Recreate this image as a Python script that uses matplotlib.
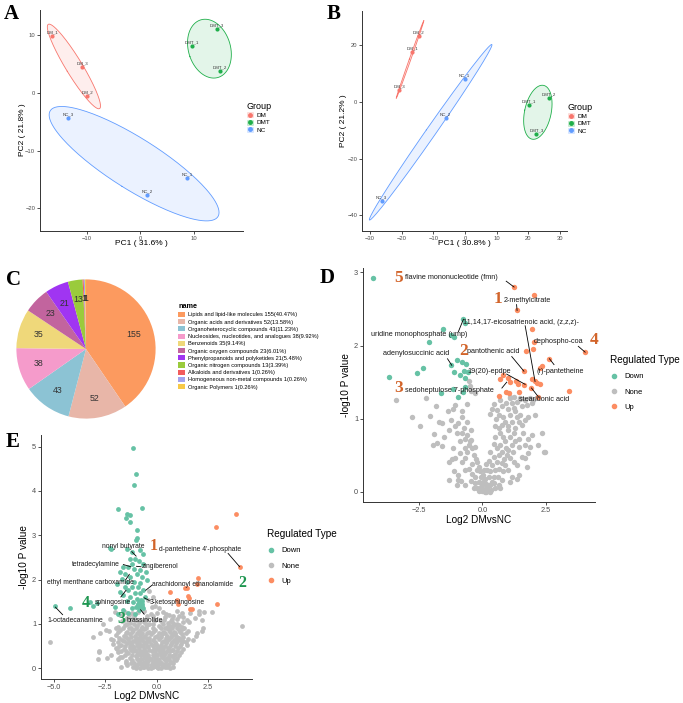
import numpy as np
import matplotlib.pyplot as plt
from matplotlib.patches import Patch
from matplotlib.lines import Line2D

plt.rcParams['font.family'] = ['Liberation Sans', 'DejaVu Sans']

W, H = 683, 703
fig = plt.figure(figsize=(W / 100, H / 100), dpi=100)


def px_axes(x0, y0, x1, y1):
    return fig.add_axes([x0 / W, 1 - y1 / H, (x1 - x0) / W, (y1 - y0) / H])


def classic(ax, size):
    for s in ['top', 'right']:
        ax.spines[s].set_visible(False)
    for s in ['left', 'bottom']:
        ax.spines[s].set_linewidth(0.7)
        ax.spines[s].set_color('#333333')
    ax.tick_params(labelsize=size, colors='#333333', labelcolor='#4D4D4D',
                   length=2, width=0.6, pad=1.5)


# ---------------- PCA data ----------------
groups = ['DM', 'DMT', 'NC']
group_colors = ['#F8766D', '#1FAF4A', '#619CFF']

a_labels = [['DM_1', 'DM_3', 'DM_2'], ['DMT_1', 'DMT_3', 'DMT_2'], ['NC_3', 'NC_1', 'NC_2']]
a_pc1 = [[-16.4, -10.8, -9.9], [9.6, 14.3, 14.9], [-13.4, 8.7, 1.3]]
a_pc2 = [[9.9, 4.45, -0.5], [8.1, 11.1, 3.9], [-4.3, -14.7, -17.7]]

b_labels = [['DM_2', 'DM_1', 'DM_3'], ['DMT_1', 'DMT_2', 'DMT_3'], ['NC_1', 'NC_2', 'NC_3']]
b_pc1 = [[-14.6, -16.7, -20.7], [20.1, 26.4, 22.5], [-0.1, -6.1, -26.3]]
b_pc2 = [[23.0, 17.5, 4.1], [-1.1, 1.3, -11.4], [8.1, -5.6, -34.8]]

# ---------------- pie data ----------------
class_names = ['Lipids and lipid-like molecules', 'Organic acids and derivatives',
               'Organoheterocyclic compounds', 'Nucleosides, nucleotides, and analogues',
               'Benzenoids', 'Organic oxygen compounds', 'Phenylpropanoids and polyketides',
               'Organic nitrogen compounds', 'Alkaloids and derivatives',
               'Homogeneous non-metal compounds', 'Organic Polymers']
class_counts = [155, 52, 43, 38, 35, 23, 21, 13, 1, 1, 1]
class_colors = ['#FC9A5F', '#E8B6A8', '#8CC3D4', '#F59BCB', '#EFD87A', '#C2649E',
                '#A035F2', '#9ACB3C', '#F25C5C', '#A3A3F0', '#F7C948']

# ---------------- volcano D (Log2 DMvsNC, -log10 P) ----------------
d_down = np.array([(-4.31, 2.92), (-0.75, 2.36), (-0.69, 2.31), (-1.57, 2.23), (-1.24, 2.15),
                   (-1.11, 2.12), (-2.10, 2.05), (-1.02, 1.80), (-0.80, 1.77), (-0.63, 1.75),
                   (-1.26, 1.73), (-2.33, 1.69), (-2.59, 1.62), (-3.71, 1.57), (-1.12, 1.64),
                   (-0.74, 1.65), (-0.58, 1.64), (-0.87, 1.60), (-0.67, 1.56), (-1.18, 1.41),
                   (-0.69, 1.44), (-1.65, 1.35), (-0.98, 1.30), (-0.75, 1.37)])
d_up = np.array([(1.25, 2.80), (2.02, 2.69), (1.37, 2.48), (1.97, 2.23), (2.03, 2.05), (1.98, 1.96),
                 (4.06, 1.91), (1.74, 1.92), (2.62, 1.81), (2.35, 1.72), (2.29, 1.69), (1.64, 1.65),
                 (0.81, 1.60), (0.70, 1.54), (1.03, 1.56), (1.10, 1.50), (1.32, 1.51), (1.40, 1.48),
                 (1.63, 1.46), (1.97, 1.54), (2.14, 1.49), (2.27, 1.48), (1.94, 1.42), (0.94, 1.37),
                 (1.07, 1.35), (0.67, 1.31), (2.18, 1.30), (3.43, 1.38), (1.46, 1.36), (2.08, 1.51)])
d_none = np.array([
    (-3.42, 1.26), (-2.24, 1.29), (-2.79, 1.02), (-2.45, 0.90), (-1.84, 1.17), (-2.07, 1.04),
    (-1.60, 0.94), (-1.93, 0.79), (-1.80, 0.67), (-1.60, 0.63), (-1.34, 0.85), (-1.24, 0.98),
    (-1.18, 1.14), (-1.37, 1.10), (-1.08, 1.19), (-0.81, 1.03), (-0.95, 0.94), (-0.71, 0.87),
    (-0.81, 0.81), (-0.62, 0.78), (-0.68, 0.73), (-0.45, 0.71), (-0.55, 0.64), (-0.42, 0.60),
    (-0.29, 0.62), (-0.35, 0.50), (-0.88, 0.53), (-1.18, 0.60), (-1.08, 0.46), (-1.34, 0.41),
    (-0.81, 0.41), (-0.68, 0.46), (-0.22, 0.41), (-0.15, 0.34), (-0.55, 0.32), (-0.42, 0.25),
    (-0.09, 0.28), (0.04, 0.23), (0.11, 0.18), (-0.15, 0.14), (-0.02, 0.09), (0.17, 0.07),
    (0.31, 0.09), (0.37, 0.14), (0.44, 0.21), (0.31, 0.28), (0.50, 0.30), (0.37, 0.37),
    (0.57, 0.41), (0.44, 0.48), (0.64, 0.50), (0.77, 0.55), (0.57, 0.60), (0.70, 0.64),
    (0.90, 0.69), (0.83, 0.75), (0.70, 0.80), (0.64, 0.87), (0.77, 0.91), (0.90, 0.96),
    (0.83, 1.03), (0.64, 1.05), (0.57, 1.12), (0.37, 1.14), (0.31, 1.07), (0.77, 1.17),
    (1.03, 1.14), (1.16, 1.21), (1.36, 1.23), (1.56, 1.17), (1.76, 1.19), (1.69, 1.26),
    (1.49, 1.28), (1.89, 1.28), (1.95, 1.21), (2.09, 1.05), (1.82, 1.03), (1.69, 0.98),
    (1.56, 0.91), (1.43, 0.96), (1.36, 1.03), (1.30, 1.10), (1.10, 1.05), (1.16, 0.96),
    (1.30, 0.87), (1.03, 0.85), (1.23, 0.80), (1.43, 0.73), (1.30, 0.69), (1.16, 0.64),
    (1.03, 0.57), (0.97, 0.50), (1.10, 0.46), (1.23, 0.41), (0.90, 0.37), (0.77, 0.39),
    (0.64, 0.32), (0.83, 0.28), (1.03, 0.30), (1.36, 0.37), (1.56, 0.48), (1.69, 0.46),
    (1.82, 0.53), (1.89, 0.62), (1.69, 0.64), (1.43, 0.62), (1.82, 0.73), (1.95, 0.78),
    (2.35, 0.80), (2.48, 0.55), (1.76, 0.34), (1.43, 0.23), (1.16, 0.21), (1.36, 0.18),
    (1.10, 0.14), (0.64, 0.09), (0.50, 0.05), (0.11, 0.02), (-0.09, 0.05), (-0.68, 0.09),
    (-1.01, 0.09), (-1.14, 0.28), (-0.95, 0.23), (-1.34, 0.16), (-0.95, 0.16), (0.77, 0.16),
    (0.00, 0.02), (0.10, 0.00), (-0.10, 0.03), (0.20, 0.04), (-0.05, 0.12), (0.05, 0.15),
    (0.15, 0.11), (-0.20, 0.06), (0.25, 0.20), (0.30, 0.00), (-0.50, 1.45), (-0.55, 1.52),
    (-0.45, 1.38), (-0.30, 1.35), (-1.94, 0.64), (2.44, 0.55), (2.20, 0.64),
    (-0.30, 0.20), (-0.20, 0.30), (-0.25, 0.45), (-0.40, 0.38), (-0.60, 0.55), (-0.50, 0.70),
    (-0.70, 0.60), (-0.90, 0.70), (-1.00, 0.80), (-0.60, 0.95), (-0.45, 0.85), (-1.10, 0.90),
    (-0.30, 0.12), (0.20, 0.30), (0.25, 0.42), (0.30, 0.55), (0.45, 0.65), (0.50, 0.75),
    (0.50, 0.90), (0.55, 1.00), (0.45, 1.20), (0.70, 1.25), (0.95, 1.22), (1.10, 1.30),
    (1.25, 1.15), (1.00, 0.90), (1.10, 0.75), (0.95, 0.60), (0.85, 0.45), (0.60, 0.20),
    (0.45, 0.12), (0.05, 0.30), (0.15, 0.38), (-0.05, 0.20), (0.00, 0.05), (-0.15, 0.02),
    (0.25, 0.10), (0.15, 0.00), (-0.35, 0.05), (0.35, 0.03), (-0.80, 1.10), (-0.60, 1.20),
    (1.50, 1.05), (1.60, 0.80), (1.20, 0.55), (0.70, 0.05), (-0.45, 0.15), (-0.70, 0.30),
    (-0.85, 0.15), (-1.20, 0.45), (-1.50, 0.75), (-1.70, 0.95), (1.10, 1.28), (1.50, 1.27),
    (1.25, 1.30), (2.00, 1.25)])

# ---------------- volcano E ----------------
e_down = np.array([
    (-1.15, 4.97), (-1.02, 4.39), (-1.10, 4.14), (-1.89, 3.60), (-0.73, 3.62), (-1.42, 3.49),
    (-1.32, 3.45), (-1.49, 3.40), (-1.29, 3.30), (-0.94, 3.11), (-0.97, 2.94), (-1.02, 2.89),
    (-2.29, 2.72), (-1.42, 2.68), (-1.20, 2.63), (-0.81, 2.66), (-0.65, 2.57), (-1.32, 2.47),
    (-1.05, 2.47), (-0.87, 2.42), (-1.21, 2.36), (-0.65, 2.36), (-1.62, 2.29), (-1.37, 2.29),
    (-1.10, 2.23), (-0.81, 2.21), (-0.52, 2.17), (-1.78, 2.17), (-1.54, 2.12), (-0.97, 2.12),
    (-1.29, 2.06), (-0.73, 2.06), (-1.70, 2.02), (-0.49, 1.99), (-1.42, 1.95), (-1.10, 1.95),
    (-0.81, 1.93), (-1.94, 1.90), (-1.54, 1.84), (-1.21, 1.84), (-0.92, 1.84), (-0.65, 1.77),
    (-1.37, 1.76), (-1.78, 1.72), (-1.05, 1.70), (-0.81, 1.69), (-1.62, 1.65), (-1.29, 1.61),
    (-0.57, 1.61), (-0.97, 1.57), (-1.45, 1.52), (-1.13, 1.50), (-0.81, 1.47), (-0.89, 1.42),
    (-0.73, 1.44), (-1.00, 1.38), (-0.65, 1.37), (-0.84, 1.31), (-1.21, 1.35), (-1.62, 1.31),
    (-1.37, 1.25), (-1.05, 1.23), (-1.86, 1.23), (-2.02, 1.38), (-2.91, 1.47), (-3.07, 1.40),
    (-3.23, 1.50), (-4.20, 1.36), (-4.92, 1.41), (-2.23, 2.69), (-0.85, 1.50), (-0.75, 1.45),
    (-0.80, 1.40), (-0.90, 1.45), (-0.70, 1.52), (-0.78, 1.55), (-0.88, 1.38), (-0.72, 1.40)])
e_up = np.array([(3.87, 3.48), (2.87, 3.19), (4.03, 2.29), (2.02, 2.04), (1.94, 1.91), (1.46, 1.80),
                 (1.38, 1.80), (0.65, 1.72), (1.53, 1.63), (1.58, 1.59), (1.00, 1.54), (1.03, 1.45),
                 (2.95, 1.45), (1.70, 1.33), (1.62, 1.33)])
e_none = np.array([
    (-5.17, 0.59), (4.16, 0.95), (2.71, 1.26), (2.07, 1.22), (1.86, 1.14), (2.18, 1.08),
    (2.26, 0.90), (1.94, 0.80), (1.74, 0.63), (1.45, 0.52), (1.26, 0.44), (1.13, 0.63),
    (0.89, 0.78), (1.21, 0.93), (0.97, 1.01), (0.73, 1.12), (1.29, 1.16), (-2.83, 0.22),
    (-2.39, 0.24), (-2.78, 0.39), (-3.07, 0.71), (-2.74, 0.80), (-2.45, 0.87), (-2.62, 1.01),
    (-2.26, 1.12), (-2.02, 1.27), (-1.78, 1.20), (-2.13, 0.63), (-1.94, 0.44), (-1.78, 0.26),
    (-1.49, 0.11), (-1.74, 0.03), (-1.13, 0.03), (-0.81, 0.00), (0.00, 0.03), (0.48, 0.03),
    (0.81, 0.11),
    (-1.55, 1.28), (-1.20, 1.24), (-0.60, 1.30), (-0.30, 1.22), (0.30, 1.27), (0.60, 1.21),
    (1.00, 1.30), (1.60, 1.25),
    (-1.45, 1.14), (-1.10, 1.18), (-0.50, 1.12), (-0.20, 1.17), (0.40, 1.15), (1.10, 1.19),
    (1.45, 1.10),
    (-1.70, 1.06), (-1.30, 1.02), (-1.00, 1.08), (-0.60, 1.05), (-0.35, 0.99), (0.20, 1.07),
    (0.55, 1.03), (0.85, 0.98), (1.55, 1.04),
    (-1.90, 0.94), (-1.55, 0.97), (-1.25, 0.92), (-0.95, 0.96), (-0.70, 0.93), (-0.45, 0.97),
    (0.10, 0.95), (0.40, 0.91), (0.65, 0.96), (1.35, 0.90),
    (-2.30, 0.84), (-1.80, 0.86), (-1.45, 0.83), (-1.15, 0.87), (-0.85, 0.84), (-0.60, 0.88),
    (-0.35, 0.82), (-0.10, 0.86), (0.30, 0.83), (0.60, 0.87), (0.85, 0.82), (1.10, 0.86),
    (1.40, 0.80), (2.20, 0.85),
    (-2.00, 0.76), (-1.60, 0.73), (-1.30, 0.77), (-1.05, 0.72), (-0.80, 0.76), (-0.55, 0.73),
    (-0.30, 0.77), (0.00, 0.74), (0.25, 0.78), (0.50, 0.72), (0.75, 0.75), (1.00, 0.71),
    (1.25, 0.77), (1.90, 0.72),
    (-2.20, 0.66), (-1.70, 0.63), (-1.40, 0.67), (-1.15, 0.62), (-0.90, 0.66), (-0.70, 0.63),
    (-0.45, 0.67), (-0.20, 0.64), (0.10, 0.66), (0.35, 0.62), (0.60, 0.67), (0.85, 0.64),
    (1.10, 0.68), (1.50, 0.66),
    (-2.10, 0.56), (-1.75, 0.53), (-1.45, 0.57), (-1.20, 0.52), (-0.95, 0.56), (-0.75, 0.53),
    (-0.50, 0.57), (-0.30, 0.54), (-0.05, 0.56), (0.20, 0.52), (0.45, 0.57), (0.70, 0.54),
    (0.95, 0.58), (1.20, 0.55), (1.40, 0.60),
    (-2.00, 0.46), (-1.60, 0.43), (-1.30, 0.47), (-1.05, 0.42), (-0.85, 0.46), (-0.60, 0.44),
    (-0.40, 0.48), (-0.15, 0.43), (0.05, 0.47), (0.30, 0.44), (0.55, 0.46), (0.80, 0.42),
    (1.05, 0.47),
    (-2.80, 0.36), (-1.90, 0.37), (-1.40, 0.34), (-1.15, 0.38), (-0.90, 0.33), (-0.70, 0.37),
    (-0.50, 0.34), (-0.25, 0.38), (-0.05, 0.33), (0.15, 0.37), (0.40, 0.35), (0.65, 0.38),
    (0.90, 0.33), (1.20, 0.36),
    (-1.70, 0.26), (-1.30, 0.23), (-1.00, 0.27), (-0.80, 0.22), (-0.55, 0.26), (-0.35, 0.23),
    (-0.15, 0.27), (0.05, 0.22), (0.25, 0.26), (0.50, 0.23), (0.75, 0.27), (1.00, 0.24),
    (-1.50, 0.17), (-1.10, 0.13), (-0.85, 0.16), (-0.60, 0.12), (-0.40, 0.17), (-0.20, 0.14),
    (0.00, 0.16), (0.20, 0.12), (0.45, 0.17), (0.70, 0.14), (0.95, 0.18),
    (-1.45, 0.08), (-1.00, 0.06), (-0.75, 0.09), (-0.50, 0.05), (-0.30, 0.08), (-0.10, 0.06),
    (0.10, 0.09), (0.30, 0.05), (0.55, 0.07), (0.80, 0.04),
    (-0.65, 0.02), (-0.40, 0.00), (0.20, 0.01), (-0.20, 0.02),
    (-0.35, 1.75), (-0.20, 1.60), (-0.40, 1.55), (-0.10, 1.40), (0.10, 1.35), (-0.25, 1.38),
    (2.30, 1.27), (2.05, 1.30),
    (-1.35, 1.20), (-0.90, 1.26), (-0.45, 1.19), (0.00, 1.25), (0.45, 1.23), (0.80, 1.17),
    (1.25, 1.24),
    (-1.60, 1.10), (-1.20, 1.12), (-0.80, 1.10), (-0.10, 1.10), (0.35, 1.08), (0.70, 1.06),
    (1.00, 1.12), (1.30, 1.05),
    (-1.45, 1.00), (-1.10, 0.99), (-0.85, 1.02), (-0.50, 1.01), (-0.20, 1.00), (0.30, 0.99),
    (0.55, 0.95), (0.80, 1.02), (1.10, 0.98),
    (-2.00, 0.90), (-1.65, 0.91), (-1.35, 0.90), (-1.00, 0.91), (-0.75, 0.89), (-0.50, 0.92),
    (-0.20, 0.90), (0.20, 0.90), (0.50, 0.90), (0.75, 0.90), (1.00, 0.92), (1.25, 0.88),
    (-1.90, 0.81), (-1.50, 0.79), (-1.20, 0.81), (-0.95, 0.79), (-0.70, 0.80), (-0.45, 0.79),
    (-0.20, 0.81), (0.10, 0.80), (0.40, 0.79), (0.65, 0.81), (0.90, 0.79), (1.15, 0.81),
    (1.50, 0.84),
    (-1.85, 0.69), (-1.50, 0.70), (-1.25, 0.71), (-1.00, 0.69), (-0.80, 0.70), (-0.60, 0.71),
    (-0.35, 0.69), (-0.10, 0.70), (0.20, 0.71), (0.45, 0.69), (0.70, 0.70), (0.95, 0.71),
    (1.30, 0.70),
    (-1.90, 0.60), (-1.60, 0.61), (-1.30, 0.59), (-1.05, 0.61), (-0.85, 0.60), (-0.60, 0.60),
    (-0.35, 0.61), (-0.10, 0.60), (0.25, 0.60), (0.50, 0.61), (0.75, 0.60), (1.00, 0.62),
    (1.30, 0.61),
    (-1.85, 0.50), (-1.55, 0.50), (-1.30, 0.51), (-1.10, 0.49), (-0.90, 0.51), (-0.65, 0.50),
    (-0.45, 0.51), (-0.20, 0.50), (0.00, 0.51), (0.20, 0.49), (0.40, 0.51), (0.65, 0.50),
    (0.90, 0.51), (1.15, 0.50),
    (-1.75, 0.40), (-1.50, 0.39), (-1.25, 0.41), (-1.00, 0.40), (-0.80, 0.39), (-0.55, 0.40),
    (-0.35, 0.41), (-0.10, 0.39), (0.10, 0.41), (0.25, 0.40), (0.50, 0.39), (0.75, 0.41),
    (1.00, 0.40),
    (-2.20, 0.31), (-1.55, 0.30), (-1.20, 0.30), (-0.95, 0.31), (-0.75, 0.29), (-0.60, 0.31),
    (-0.40, 0.30), (-0.20, 0.31), (0.00, 0.29), (0.20, 0.31), (0.35, 0.30), (0.60, 0.31),
    (0.85, 0.29), (1.10, 0.30),
    (-1.90, 0.21), (-1.20, 0.19), (-0.95, 0.20), (-0.70, 0.21), (-0.50, 0.19), (-0.30, 0.20),
    (-0.10, 0.21), (0.10, 0.19), (0.35, 0.20), (0.60, 0.21), (0.85, 0.20),
    (-1.25, 0.11), (-0.90, 0.10), (-0.65, 0.11), (-0.45, 0.10), (-0.20, 0.11), (0.00, 0.10),
    (0.20, 0.11), (0.40, 0.10), (0.65, 0.11),
    (-1.00, 0.00), (-0.60, 0.04), (-0.30, 0.01), (0.05, 0.00), (0.40, 0.02), (0.65, 0.01)])

# labels: text, text left x, text y, line start, line end (point)
d_notes = [('flavine mononucleotide (fmn)', -3.05, 2.93, (0.94, 2.88), (1.25, 2.80)),
           ('2-methylcitrate', 0.83, 2.61, (1.35, 2.56), (1.37, 2.48)),
           ('11,14,17-eicosatrienoic acid, (z,z,z)-', -0.78, 2.32, (1.69, 2.27), (2.08, 1.51)),
           ('uridine monophosphate (ump)', -4.41, 2.15, (-0.95, 2.19), (-0.75, 2.36)),
           ('dephospho-coa', 2.02, 2.05, (3.79, 1.99), (4.06, 1.91)),
           ('pantothenic acid', -0.60, 1.92, (1.16, 1.85), (1.64, 1.65)),
           ('adenylosuccinic acid', -3.94, 1.89, (-1.38, 1.82), (-1.21, 1.73)),
           ('19(20)-epdpe', -0.60, 1.65, (0.96, 1.61), (1.69, 1.47)),
           ('(r)-pantetheine', 2.14, 1.65, (2.83, 1.74), (2.65, 1.82)),
           ('sedoheptulose 7-phosphate', -3.05, 1.39, (0.77, 1.42), (0.96, 1.50)),
           ('stearidonic acid', 1.46, 1.27, (2.21, 1.30), (1.94, 1.42))]
d_ranks = [('5', -3.30, 2.93, '#D2642A'), ('1', 0.61, 2.63, '#D2642A'), ('4', 4.41, 2.08, '#D2642A'),
           ('2', -0.75, 1.93, '#D2642A'), ('3', -3.30, 1.42, '#D2642A')]

e_notes = [("d-pantetheine 4'-phosphate", 0.13, 2.68, (3.47, 2.59), (4.03, 2.29)),
           ('nonyl butyrate', -2.66, 2.74, (-1.21, 2.63), (-1.00, 2.53)),
           ('tetradecylamine', -4.12, 2.33, (-1.62, 2.34), (-1.26, 2.29)),
           ('zingiberenol', -0.73, 2.29, (-0.76, 2.29), (-0.98, 2.30)),
           ('ethyl menthane carboxamide', -5.33, 1.93, (-1.50, 2.00), (-1.33, 2.12)),
           ('arachidonoyl ethanolamide', -0.21, 1.90, (-0.24, 1.87), (-0.53, 1.76)),
           ('sphingosine', -2.99, 1.48, (-1.74, 1.61), (-1.49, 1.76)),
           ('3-ketosphingosine', -0.32, 1.48, (-0.36, 1.53), (-0.61, 1.59)),
           ('1-octadecanamine', -5.33, 1.08, (-4.57, 1.21), (-4.92, 1.38)),
           ('brassinolide', -1.49, 1.08, (-0.61, 1.22), (-0.78, 1.32))]
e_ranks = [('1', -0.13, 2.75, '#D2642A'), ('2', 4.18, 1.93, '#1E9650'),
           ('4', -3.47, 1.48, '#1E9650'), ('3', -1.74, 1.11, '#1E9650')]

type_names = ['Down', 'None', 'Up']
type_colors = ['#66C2A5', '#BEBEBE', '#FC8D62']
serif = ['Liberation Serif', 'DejaVu Serif']


def pca_panel(ax, pc1, pc2, labels, xlabel, ylabel):
    for g in range(3):
        c = group_colors[g]
        pts = np.column_stack([pc1[g], pc2[g]])
        centre = pts.mean(axis=0)
        vals, vecs = np.linalg.eigh(np.cov(pts.T))
        t = np.linspace(0, 2 * np.pi, 200)
        ring = vecs @ (np.sqrt(np.clip(vals, 0, None))[:, None] * np.vstack([np.cos(t), np.sin(t)]))
        ex = centre[0] + 1.41 * ring[0]
        ey = centre[1] + 1.41 * ring[1]
        ax.fill(ex, ey, color=c, alpha=0.12, lw=0)
        ax.plot(ex, ey, color=c, lw=0.6)
        ax.scatter(pc1[g], pc2[g], s=9, color=c, lw=0, zorder=3)
        for x, y, lab in zip(pc1[g], pc2[g], labels[g]):
            ax.annotate(lab, (x, y), xytext=(0, 1.2), textcoords='offset points',
                        ha='center', va='bottom', fontsize=3.2, color='#333333')
    classic(ax, 4.2)
    ax.set_xlabel(xlabel, fontsize=6)
    ax.set_ylabel(ylabel, fontsize=6)


def group_legend(x, y):
    handles = [(Patch(facecolor=c, alpha=0.2, edgecolor=c, lw=0.6),
                Line2D([], [], marker='o', ls='', color=c, markersize=2.5)) for c in group_colors]
    leg = fig.legend(handles, groups, title='Group', loc='upper left', bbox_to_anchor=(x / W, 1 - y / H),
                     frameon=False, fontsize=4.6, title_fontsize=6.5, alignment='left',
                     handlelength=1.0, handleheight=0.9, labelspacing=0.25, handletextpad=0.5,
                     borderaxespad=0)
    return leg


# ---------------- A ----------------
ax_a = px_axes(40, 10, 243, 231)
pca_panel(ax_a, a_pc1, a_pc2, a_labels, 'PC1 ( 31.6% )', 'PC2 ( 21.8% )')
ax_a.set_xlim(-18.7, 19.2)
ax_a.set_ylim(-23.9, 14.4)
ax_a.set_xticks([-10, 0, 10])
ax_a.set_yticks([-20, -10, 0, 10])
ax_a.xaxis.set_label_coords(0.5, -0.04)
ax_a.yaxis.set_label_coords(-0.07, 0.46)
group_legend(244, 99)

# ---------------- B ----------------
ax_b = px_axes(362, 11, 567, 231)
pca_panel(ax_b, b_pc1, b_pc2, b_labels, 'PC1 ( 30.8% )', 'PC2 ( 21.2% )')
ax_b.set_xlim(-32.5, 32.2)
ax_b.set_ylim(-45.5, 31.9)
ax_b.set_xticks([-30, -20, -10, 0, 10, 20, 30])
ax_b.set_yticks([-40, -20, 0, 20])
ax_b.xaxis.set_label_coords(0.5, -0.04)
ax_b.yaxis.set_label_coords(-0.075, 0.5)
group_legend(565, 100)

# ---------------- C ----------------
ax_c = px_axes(15, 278, 157, 420)
wedges, _ = ax_c.pie(class_counts, colors=class_colors, startangle=90, counterclock=False,
                     wedgeprops=dict(lw=0))
ax_c.set_xlim(-1.02, 1.02)
ax_c.set_ylim(-1.02, 1.02)
total = sum(class_counts)
edges = np.cumsum([0] + class_counts)
for i, n in enumerate(class_counts):
    mid = (edges[i] + edges[i + 1]) / 2 / total * 2 * np.pi
    ax_c.text(0.72 * np.sin(mid), 0.72 * np.cos(mid), str(n), ha='center', va='center',
              fontsize=6.3, color='#333333')
pie_labels = ['%s %d(%.2f%%)' % (nm, n, n / total * 100) for nm, n in zip(class_names, class_counts)]
leg_c = fig.legend(wedges, pie_labels, title='name', loc='upper left', bbox_to_anchor=(176 / W, 1 - 301 / H),
                   frameon=False, fontsize=4.1, title_fontsize=5.2, alignment='left', handlelength=1.2,
                   handleheight=1.0, labelspacing=0.3, handletextpad=0.5, borderaxespad=0)
leg_c.get_title().set_fontweight('bold')


# ---------------- volcano panels ----------------
def volcano(ax, down, none, up, notes, ranks, s, note_size, rank_size):
    ax.scatter(none[:, 0], none[:, 1], s=s, color=type_colors[1], lw=0)
    ax.scatter(down[:, 0], down[:, 1], s=s, color=type_colors[0], lw=0)
    ax.scatter(up[:, 0], up[:, 1], s=s, color=type_colors[2], lw=0)
    for txt, tx, ty, a, b in notes:
        ax.text(tx, ty, txt, fontsize=note_size, ha='left', va='center', color='#1A1A1A')
        ax.plot([a[0], b[0]], [a[1], b[1]], color='black', lw=0.6)
    for num, x, y, col in ranks:
        ax.text(x, y, num, fontsize=rank_size, ha='center', va='center', color=col,
                family=serif, fontweight='bold')
    classic(ax, 5.3)
    ax.set_xlabel('Log2 DMvsNC', fontsize=7.2)
    ax.set_ylabel('-log10 P value', fontsize=7.2)


def type_legend(x, y):
    handles = [Line2D([], [], marker='o', ls='', color=c, markersize=3) for c in type_colors]
    fig.legend(handles, type_names, title='Regulated Type', loc='upper left', bbox_to_anchor=(x / W, 1 - y / H),
               frameon=False, fontsize=5.5, title_fontsize=7.2, alignment='left', handlelength=1.0,
               labelspacing=1.05, handletextpad=0.9, borderaxespad=0)


ax_d = px_axes(363, 268, 595, 502)
volcano(ax_d, d_down, d_none, d_up, d_notes, d_ranks, 15, 5.2, 12.5)
ax_d.set_xlim(-4.72, 4.45)
ax_d.set_ylim(-0.137, 3.06)
ax_d.set_xticks([-2.5, 0, 2.5])
ax_d.set_yticks([0, 1, 2, 3])
ax_d.xaxis.set_label_coords(0.5, -0.055)
ax_d.yaxis.set_label_coords(-0.05, 0.5)
type_legend(607, 352)

ax_e = px_axes(41, 435, 252, 679)
volcano(ax_e, e_down, e_none, e_up, e_notes, e_ranks, 12, 4.9, 11.5)
ax_e.set_xlim(-5.62, 4.63)
ax_e.set_ylim(-0.24, 5.26)
ax_e.set_xticks([-5, -2.5, 0, 2.5])
ax_e.set_yticks([0, 1, 2, 3, 4, 5])
ax_e.xaxis.set_label_coords(0.5, -0.05)
ax_e.yaxis.set_label_coords(-0.055, 0.5)
type_legend(264, 526)

# panel letters
for letter, x, y in [('A', 4, 4), ('B', 327, 4), ('C', 6, 270), ('D', 320, 268), ('E', 6, 432)]:
    fig.text(x / W, 1 - y / H, letter, fontsize=15, fontweight='bold', family=serif, va='top', ha='left')

fig.savefig('out.png', dpi=100)
